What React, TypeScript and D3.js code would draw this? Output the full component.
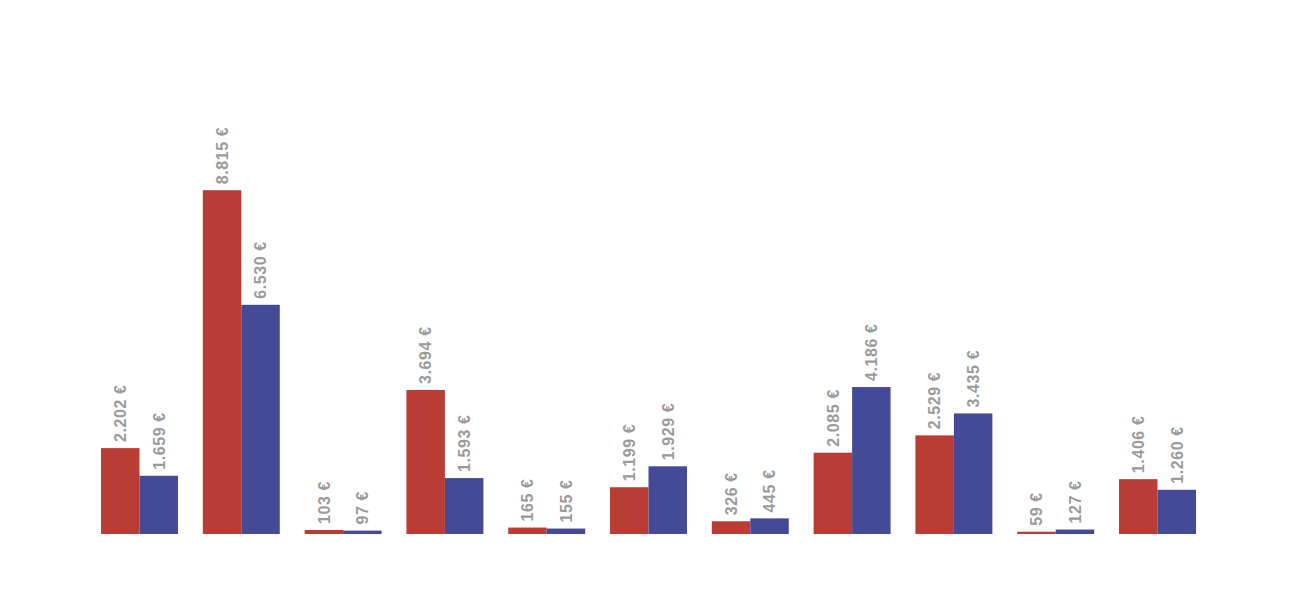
import React from "react";
import * as d3 from "d3";

const categories = ["A", "B", "C", "D", "E", "F", "G", "H", "I", "J", "K"];
const seriesRed = [2202, 8815, 103, 3694, 165, 1199, 326, 2085, 2529, 59, 1406];
const seriesBlue = [1659, 6530, 97, 1593, 155, 1929, 445, 4186, 3435, 127, 1260];
const redColor = "#b93d34";
const blueColor = "#444a97";

const W = 1289;
const H = 593;
const baseY = 534;

const fmt = (v: number) => d3.format(",")(v).replace(/,/g, ".") + " €";

export default function App() {
  const x = d3
    .scaleBand<string>()
    .domain(categories)
    .range([88.6, 1208.4])
    .paddingInner(0.244)
    .paddingOuter(0.122);
  const yRed = d3.scaleLinear().domain([0, 10000]).range([baseY, baseY - 390]);
  const yBlue = d3.scaleLinear().domain([0, 10000]).range([baseY, baseY - 351]);
  const bw = x.bandwidth() / 2;

  const series = [
    { vals: seriesRed, y: yRed, color: redColor, off: 0 },
    { vals: seriesBlue, y: yBlue, color: blueColor, off: bw },
  ];

  return (
    <svg width={W} height={H} style={{ position: "absolute", left: 0, top: 0 }}>
      <rect width={W} height={H} fill="#fff" />
      {series.map((s, si) =>
        categories.map((c, i) => {
          const x0 = (x(c) ?? 0) + s.off;
          const yt = s.y(s.vals[i]);
          const cx = x0 + bw / 2;
          return (
            <g key={`${si}-${i}`}>
              <rect x={x0} y={yt} width={bw} height={baseY - yt} fill={s.color} />
              <text
                transform={`translate(${cx},${yt - 6}) rotate(-90)`}
                dy="0.36em"
                fill="#9b9b9b"
                fontFamily="'Liberation Sans', Arial, sans-serif"
                fontWeight="bold"
                fontSize={16}
                letterSpacing={0.6}
              >
                {fmt(s.vals[i])}
              </text>
            </g>
          );
        })
      )}
    </svg>
  );
}
